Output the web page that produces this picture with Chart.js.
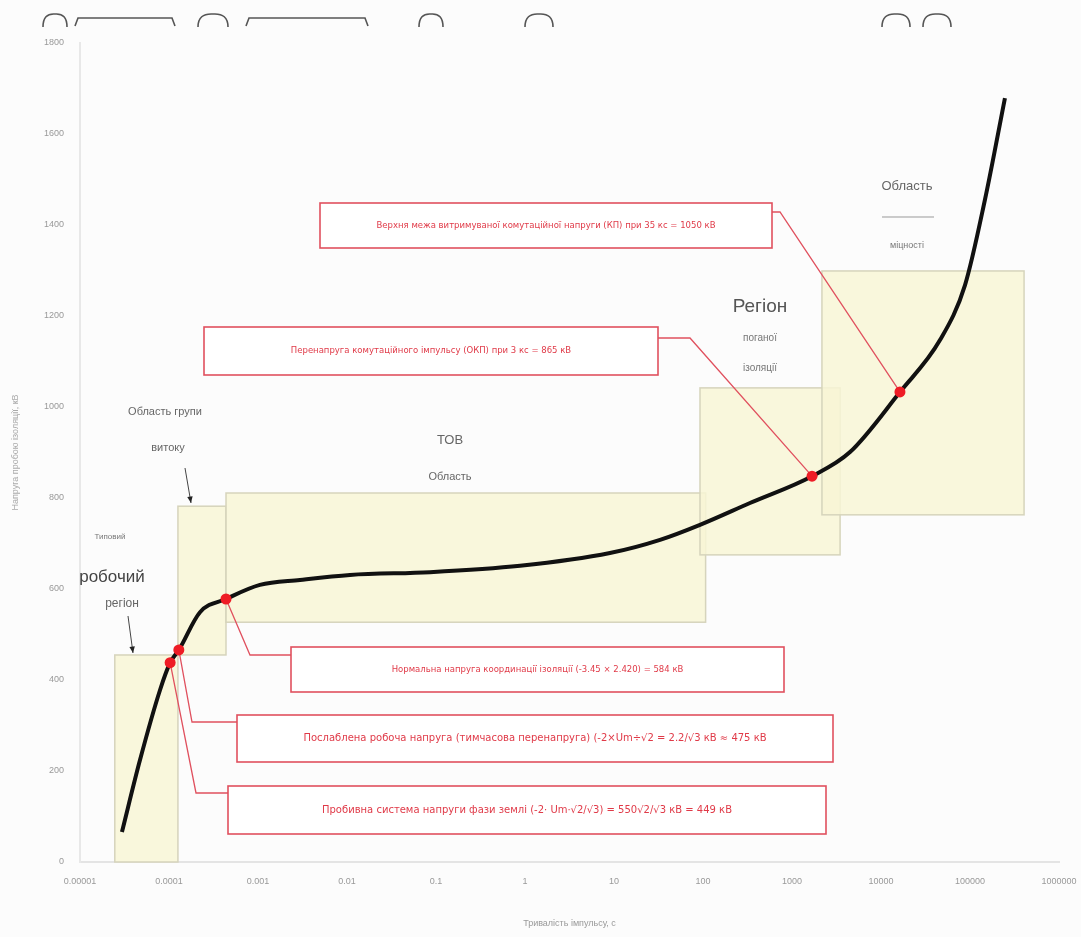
<!DOCTYPE html>
<html><head><meta charset="utf-8">
<script src="https://cdn.jsdelivr.net/npm/chart.js@4/dist/chart.umd.min.js"></script>
<style>html,body{margin:0;padding:0;background:#fcfcfc}#wrap{width:1081px;height:937px}</style>
</head><body><div id="wrap"><canvas id="c" width="1081" height="937"></canvas></div>
<script>
// ---- data ----
const curveX = [2.96e-5, 4.72e-5, 7.93e-5, 1.03e-4, 1.29e-4, 2.23e-4, 4.37e-4, 1.05e-3, 2.96e-3, 0.0108, 0.0857, 0.88, 9.0, 32.9, 92.5, 337, 1679, 4487, 16330, 46000, 87900, 147000, 247000];
const curveY = [66, 224, 378, 438, 466, 549, 578, 609, 620, 631, 637, 651, 679, 708, 741, 789, 848, 901, 1033, 1147, 1268, 1455, 1679];
const markerX = [1.03e-4, 1.29e-4, 4.37e-4, 1679, 16330];
const markerY = [438, 466, 578, 848, 1033];
const regionX0 = [2.46e-5, 1.26e-4, 4.37e-4, 92.5, 2170];
const regionX1 = [1.26e-4, 4.37e-4, 107, 3470, 405000];
const regionY0 = [0, 455, 527, 675, 763];
const regionY1 = [455, 782, 811, 1042, 1299];
const xTickValues = [1e-5, 1e-4, 1e-3, 1e-2, 1e-1, 1, 10, 100, 1000, 10000, 100000, 1000000];
const xTickLabels = ['0.00001', '0.0001', '0.001', '0.01', '0.1', '1', '10', '100', '1000', '10000', '100000', '1000000'];
const calloutTexts = [
  'Пробивна система напруги фази землі (-2· Um·√2/√3) = 550√2/√3 кВ = 449 кВ',
  'Послаблена робоча напруга (тимчасова перенапруга) (-2×Um÷√2 = 2.2/√3 кВ ≈ 475 кВ',
  'Нормальна напруга координації ізоляції (-3.45 × 2.420) = 584 кВ',
  'Перенапруга комутаційного імпульсу (ОКП) при 3 кс = 865 кВ',
  'Верхня межа витримуваної комутаційної напруги (КП) при 35 кс = 1050 кВ'
];
const xTitle = 'Тривалість імпульсу, с';
const yTitle = 'Напруга пробою ізоляції, кВ';

// ---- layout (pixels) ----
const calloutBoxes = [
  {x:228,y:786,w:598,h:48,side:'L',ly:793,kx:196,fs:10},
  {x:237,y:715,w:596,h:47,side:'L',ly:722,kx:192,fs:10},
  {x:291,y:647,w:493,h:45,side:'L',ly:655,kx:250,fs:8.5},
  {x:204,y:327,w:454,h:48,side:'R',ly:338,kx:690,fs:8.5},
  {x:320,y:203,w:452,h:45,side:'R',ly:212,kx:780,fs:8.5}
];

const curvePts = curveX.map((x,i)=>({x, y: curveY[i]}));
const markerPts = markerX.map((x,i)=>({x, y: markerY[i]}));

const regionsPlugin = {
  id:'regions',
  beforeDatasetsDraw(chart){
    const {ctx, scales:{x,y}} = chart;
    ctx.save();
    for(let i=0;i<regionX0.length;i++){
      const l=x.getPixelForValue(regionX0[i]), r=x.getPixelForValue(regionX1[i]);
      const t=y.getPixelForValue(regionY1[i]), b=y.getPixelForValue(regionY0[i]);
      ctx.fillStyle='rgba(248,246,214,0.85)';
      ctx.fillRect(l,t,r-l,b-t);
      ctx.strokeStyle='#d6d4bc'; ctx.lineWidth=1.5;
      ctx.strokeRect(l,t,r-l,b-t);
    }
    ctx.restore();
  },
  afterDatasetsDraw(chart){
    const {ctx, scales:{x,y}} = chart;
    ctx.save();
    calloutBoxes.forEach((b,i)=>{
      const mx=x.getPixelForValue(markerX[i]), my=y.getPixelForValue(markerY[i]);
      const sx = b.side==='L'? b.x : b.x+b.w;
      ctx.strokeStyle='#e0505e'; ctx.lineWidth=1.3;
      ctx.beginPath(); ctx.moveTo(sx,b.ly); ctx.lineTo(b.kx,b.ly); ctx.lineTo(mx,my); ctx.stroke();
    });
    calloutBoxes.forEach((b,i)=>{
      ctx.fillStyle='#ffffff'; ctx.fillRect(b.x,b.y,b.w,b.h);
      ctx.strokeStyle='#e0505e'; ctx.lineWidth=1.6; ctx.strokeRect(b.x,b.y,b.w,b.h);
      ctx.fillStyle='#e03a48'; ctx.font=b.fs+'px "DejaVu Sans", sans-serif';
      ctx.textAlign='center'; ctx.textBaseline='middle';
      ctx.fillText(calloutTexts[i], b.x+b.w/2, b.y+b.h/2);
    });
    markerPts.forEach(p=>{
      ctx.fillStyle='#ee1c25';
      ctx.beginPath(); ctx.arc(x.getPixelForValue(p.x), y.getPixelForValue(p.y), 5.5, 0, Math.PI*2); ctx.fill();
    });
    const T=(s,px,py,fs,col,w)=>{ctx.font=(w||'')+' '+fs+'px "Liberation Sans", Arial, sans-serif';ctx.fillStyle=col;ctx.textAlign='center';ctx.textBaseline='middle';ctx.fillText(s,px,py);};
    T('Область',907,186,13,'#666');
    ctx.strokeStyle='#999';ctx.lineWidth=1;ctx.beginPath();ctx.moveTo(882,217);ctx.lineTo(934,217);ctx.stroke();
    T('міцності',907,246,9,'#777');
    T('Регіон',760,307,19,'#555');
    T('поганої',760,338,10,'#777');
    T('ізоляції',760,368,10,'#777');
    T('ТОВ',450,440,13,'#666');
    T('Область',450,477,11,'#666');
    T('Область групи',165,412,11,'#666');
    T('витоку',168,448,11,'#666');
    T('Типовий',110,537,8,'#777');
    T('робочий',112,577,17,'#444');
    T('регіон',122,604,12,'#666');
    const arrow=(x1,y1,x2,y2)=>{ctx.strokeStyle='#444';ctx.lineWidth=1;ctx.beginPath();ctx.moveTo(x1,y1);ctx.lineTo(x2,y2);ctx.stroke();
      const a=Math.atan2(y2-y1,x2-x1);ctx.fillStyle='#222';ctx.beginPath();ctx.moveTo(x2,y2);ctx.lineTo(x2-7*Math.cos(a-0.4),y2-7*Math.sin(a-0.4));ctx.lineTo(x2-7*Math.cos(a+0.4),y2-7*Math.sin(a+0.4));ctx.closePath();ctx.fill();};
    arrow(185,468,191,503);
    arrow(128,616,133,653);
    ctx.strokeStyle='#555'; ctx.lineWidth=1.6;
    const arc=(cx,w)=>{ctx.beginPath();ctx.moveTo(cx-w/2,27);ctx.quadraticCurveTo(cx-w/2,13,cx,14);ctx.quadraticCurveTo(cx+w/2,13,cx+w/2,27);ctx.stroke();};
    arc(55,24); arc(213,30); arc(431,24); arc(539,28); arc(896,28); arc(937,28);
    const br=(x1,x2)=>{ctx.beginPath();ctx.moveTo(x1,26);ctx.lineTo(x1+3,18);ctx.lineTo(x2-3,18);ctx.lineTo(x2,26);ctx.stroke();};
    br(75,175); br(246,368);
    ctx.restore();
  }
};

new Chart(document.getElementById('c'), {
  type:'line',
  data:{datasets:[
    {data:curvePts, borderColor:'#111', borderWidth:4, pointRadius:0, cubicInterpolationMode:'monotone', fill:false}
  ]},
  options:{
    responsive:false, animation:false,
    layout:{padding:{left:6,right:22,top:43,bottom:4}},
    plugins:{legend:{display:false}, tooltip:{enabled:false}},
    scales:{
      x:{type:'logarithmic', min:1e-5, max:1e6,
        afterBuildTicks(s){ s.ticks = xTickValues.map(v=>({value:v})); },
        ticks:{autoSkip:false, maxRotation:0, color:'#999', font:{size:9}, padding:14,
          callback:(v)=>{const i=xTickValues.findIndex(t=>Math.abs(Math.log10(t)-Math.log10(v))<1e-6);return i>=0?xTickLabels[i]:'';}},
        grid:{display:false, drawTicks:false},
        border:{color:'#e4e4e4', width:2},
        title:{display:true, text:xTitle, color:'#999', font:{size:9}, padding:{top:18}},
        afterFit(s){ s.height = 71; s.paddingRight = 0; s.paddingLeft = 0; }
      },
      y:{min:0, max:1800,
        ticks:{stepSize:200, color:'#999', font:{size:9}, padding:16, callback:(v)=>String(v)},
        grid:{display:false, drawTicks:false},
        border:{color:'#e8e8e8', width:2},
        title:{display:true, text:yTitle, color:'#aaa', font:{size:9}},
        afterFit(s){ s.width = 74; }
      }
    }
  },
  plugins:[regionsPlugin]
});
</script></body></html>
